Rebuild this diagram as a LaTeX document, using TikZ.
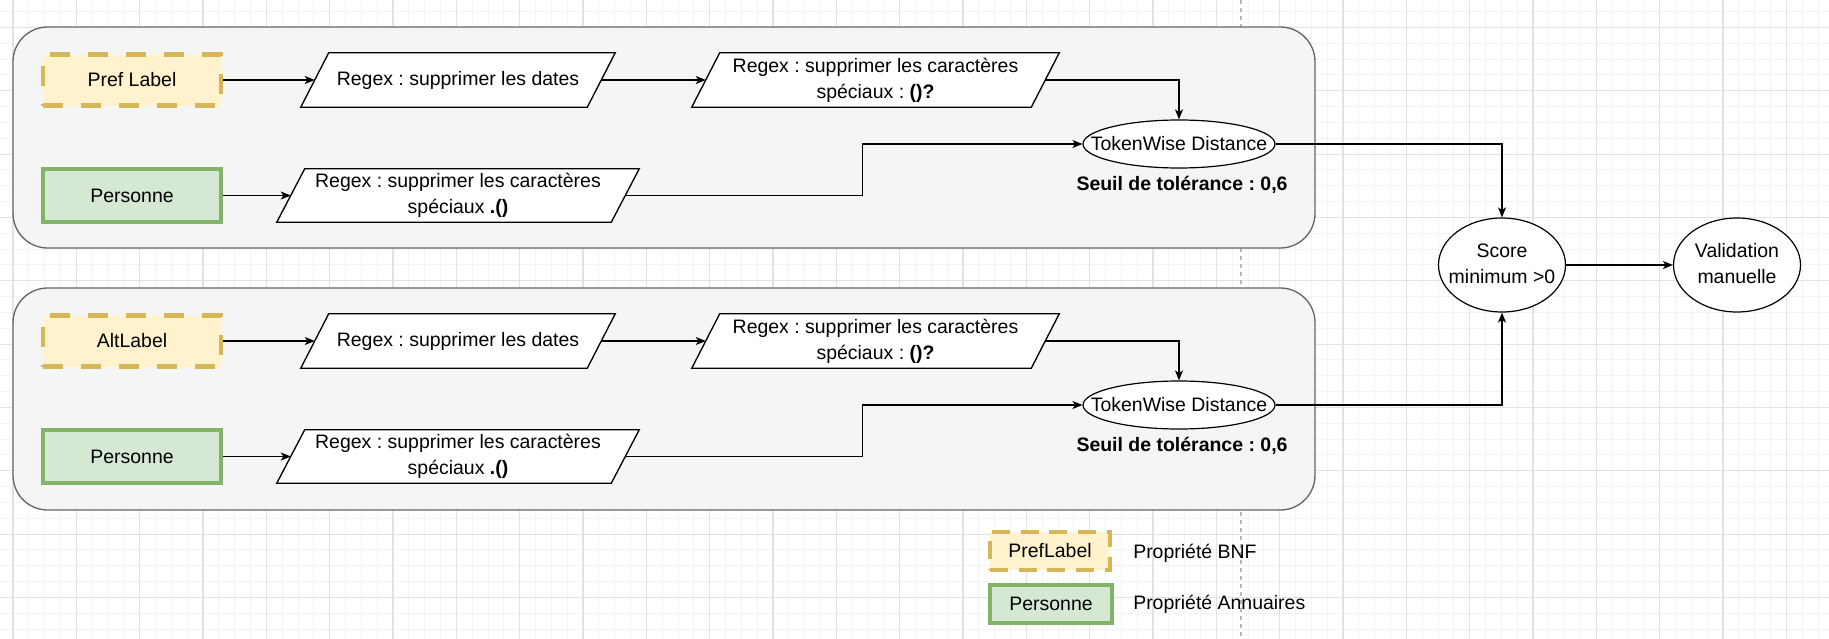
\documentclass[tikz,border=0pt]{standalone}
\usepackage{fontspec}
\setmainfont{Liberation Sans}
\usetikzlibrary{shapes.geometric,arrows.meta,calc}
\pgfdeclarelayer{back}
\pgfdeclarelayer{mid}
\pgfsetlayers{back,mid,main}
\definecolor{gridmaj}{HTML}{E2E2E2}
\definecolor{gridmin}{HTML}{F3F3F3}
\definecolor{contfill}{HTML}{F5F5F5}
\definecolor{contdraw}{HTML}{666666}
\definecolor{bnfdraw}{HTML}{D6B656}
\definecolor{bnffill}{HTML}{FFF2CC}
\definecolor{anndraw}{HTML}{82B366}
\definecolor{annfill}{HTML}{D5E8D4}
\definecolor{pagebrk}{HTML}{B8B8B8}
\def\pxu{0.75pt}
\def\parahs{10.5pt}
\newcommand\paradraw[1]{%
  \begin{pgfonlayer}{mid}
    \path[parashape] ([xshift=-\parahs]#1.south west) -- ([xshift=-\parahs]#1.south east)
      -- ([xshift=\parahs]#1.north east) -- ([xshift=\parahs]#1.north west) -- cycle;
  \end{pgfonlayer}}
\frenchspacing
\begin{document}
\begin{tikzpicture}[x=0.75pt,y=-0.75pt,
  every node/.style={font=\fontsize{14.6}{19.5}\selectfont\frenchspacing, text=black, inner sep=0pt},
  container/.style={rectangle, draw=contdraw, fill=contfill, line width=1pt, rounded corners=26pt},
  bnfbox/.style={rectangle, draw=bnfdraw, fill=bnffill, line width=3.3pt, dash pattern=on 15pt off 13.5pt, minimum width=178*\pxu, minimum height=51*\pxu},
  annbox/.style={rectangle, draw=anndraw, fill=annfill, line width=3.5pt, minimum width=178*\pxu, minimum height=53*\pxu},
  parabox/.style={rectangle, align=center, minimum height=54*\pxu},
  parashape/.style={draw=black, fill=white, line width=1pt},
  oval/.style={ellipse, draw=black, fill=white, line width=0.9pt},
  conn/.style={draw=black, line width=1pt, -{Stealth[length=7.5pt,width=6pt,inset=2pt]}},
  gmin/.style={draw=gridmin, line width=0.6pt},
  gmaj/.style={draw=gridmaj, line width=0.8pt},
  pagebreak/.style={draw=pagebrk, line width=0.8pt, dash pattern=on 3pt off 3pt}
]
\useasboundingbox (0,0) rectangle (1829,639);

% background grid
\begin{pgfonlayer}{back}
  \fill[white] (0,0) rectangle (1829,639);
  \begin{scope}
    \clip (0,0) rectangle (1829,639);
    \foreach \k in {-1,...,115} \draw[gmin] ({13+\k*15.833},0) -- ({13+\k*15.833},639);
    \foreach \k in {-2,...,39} \draw[gmin] (0,{27.4+\k*15.833}) -- (1829,{27.4+\k*15.833});
    \foreach \k in {0,...,29} \draw[gmaj] ({13+\k*63.333},0) -- ({13+\k*63.333},639);
    \foreach \k in {-1,...,10} \draw[gmaj] (0,{27.4+\k*63.333}) -- (1829,{27.4+\k*63.333});
  \end{scope}
  \draw[pagebreak] (1241,0) -- (1241,639);
  \node[container, minimum width=1302*\pxu, minimum height=221*\pxu] (c1) at (664,137.5) {};
  \node[container, minimum width=1302*\pxu, minimum height=222*\pxu] (c2) at (664,399) {};
\end{pgfonlayer}

% ---- top group
\node[bnfbox] (pref) at (132,80) {Pref Label};
\node[parabox, minimum width=286*\pxu] (p1) at (458,80) {Regex : supprimer les dates};
\node[parabox, minimum width=339*\pxu] (p2) at (875.5,80) {Regex : supprimer les caractères\\spéciaux : \textbf{()?}};
\node[annbox] (pers1) at (132,195.5) {Personne};
\node[parabox, minimum width=334*\pxu, minimum height=53*\pxu] (p3) at (458,195.5) {Regex : supprimer les caractères\\spéciaux \textbf{.()}};
\node[oval, minimum width=192*\pxu, minimum height=48*\pxu] (tw1) at (1179,144) {\makebox[0pt]{TokenWise Distance}};
\node (seuil1) at (1182,185) {\textbf{Seuil de tolérance : 0,6}};
\paradraw{p1}\paradraw{p2}\paradraw{p3}

% ---- bottom group
\node[bnfbox] (alt) at (132,341) {AltLabel};
\node[parabox, minimum width=286*\pxu] (q1) at (458,341) {Regex : supprimer les dates};
\node[parabox, minimum width=339*\pxu] (q2) at (875.5,341) {Regex : supprimer les caractères\\spéciaux : \textbf{()?}};
\node[annbox] (pers2) at (132,456.5) {Personne};
\node[parabox, minimum width=334*\pxu, minimum height=53*\pxu] (q3) at (458,456.5) {Regex : supprimer les caractères\\spéciaux \textbf{.()}};
\node[oval, minimum width=192*\pxu, minimum height=48*\pxu] (tw2) at (1179,405) {\makebox[0pt]{TokenWise Distance}};
\node (seuil2) at (1182,446) {\textbf{Seuil de tolérance : 0,6}};
\paradraw{q1}\paradraw{q2}\paradraw{q3}

% ---- right side
\node[oval, minimum width=127*\pxu, minimum height=94*\pxu] (score) at (1502,265)
  {\makebox[0pt]{\begin{tabular}{@{}c@{}}Score\\minimum >0\end{tabular}}};
\node[oval, minimum width=127*\pxu, minimum height=94*\pxu] (valid) at (1737,265)
  {\makebox[0pt]{\begin{tabular}{@{}c@{}}Validation\\manuelle\end{tabular}}};

% ---- legend
\node[bnfbox, line width=3pt, dash pattern=on 13.5pt off 8pt, minimum width=120*\pxu, minimum height=38*\pxu] (lg1) at (1050,551) {PrefLabel};
\node[annbox, minimum width=122*\pxu, minimum height=38*\pxu] (lg2) at (1051,604) {Personne};
\node[anchor=west] (lt1) at (1133,553) {Propriété BNF};
\node[anchor=west] (lt2) at (1133,604) {Propriété Annuaires};

% ---- connectors
\draw[conn] (pref.east) -- (p1.west);
\draw[conn] (p1.east) -- (p2.west);
\draw[conn] (p2.east) -| (tw1.north);
\draw[conn] (pers1.east) -- (p3.west);
\draw[conn] (p3.east) -- ++(237,0) |- (tw1.west);
\draw[conn] (alt.east) -- (q1.west);
\draw[conn] (q1.east) -- (q2.west);
\draw[conn] (q2.east) -| (tw2.north);
\draw[conn] (pers2.east) -- (q3.west);
\draw[conn] (q3.east) -- ++(237,0) |- (tw2.west);
\draw[conn] (tw1.east) -| (score.north);
\draw[conn] (tw2.east) -| (score.south);
\draw[conn] (score.east) -- (valid.west);
\end{tikzpicture}
\end{document}
